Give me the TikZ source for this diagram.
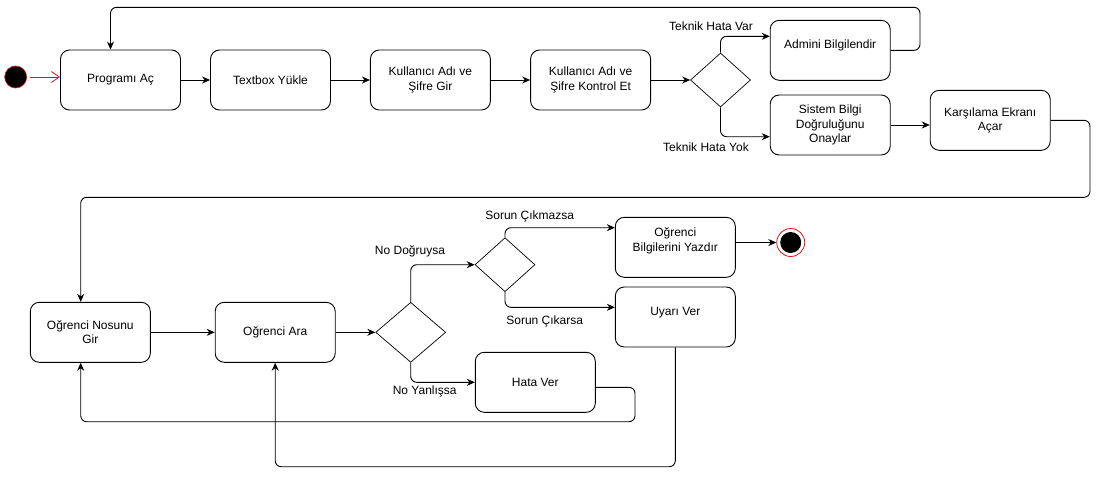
\documentclass[tikz,border=0pt]{standalone}
\usepackage{fontspec}
\setmainfont{Liberation Sans}
\usetikzlibrary{shapes.geometric,arrows.meta}
\definecolor{startRed}{RGB}{225,20,20}

\begin{document}
\begin{tikzpicture}[x=1pt,y=-1pt,
    font=\fontsize{12}{14.5}\selectfont,
    actbox/.style={draw,rounded corners=9pt,line width=0.9pt,minimum width=120pt,minimum height=60pt,align=center,inner sep=2pt},
    lifted/.style={text depth=#1},
    choice/.style={draw,diamond,line width=0.7pt,minimum width=60pt,minimum height=54pt,inner sep=0pt},
    flow/.style={line width=0.9pt,-{Stealth[length=8pt,width=7pt]},rounded corners=6pt},
    lbl/.style={inner sep=0pt},
    endring/.style={circle,draw=startRed,line width=0.8pt,fill=white,minimum size=28pt,inner sep=0pt,
      path picture={\fill[black] (path picture bounding box.center) circle (10.5pt);}}]
  \useasboundingbox (0,0) rectangle (1100,479);

  % Start
  \node[circle,fill=black,draw=startRed,line width=0.6pt,minimum size=22pt,inner sep=0pt] (start) at (15.7,77) {};

  % Login row
  \node[actbox] (prog) at (120.5,80) {Programı Aç};
  \node[actbox] (textbox) at (270.5,80) {Textbox Yükle};
  \node[actbox] (gir) at (430.4,80) {Kullanıcı Adı ve\\Şifre Gir};
  \node[actbox] (kontrol) at (590.6,80) {Kullanıcı Adı ve\\Şifre Kontrol Et};
  \node[choice] (hatakarar) at (720.5,80) {};
  \node[actbox,lifted=11.5pt] (admin) at (830.2,50.3) {Admini Bilgilendir};
  \node[actbox] (sistem) at (830.2,125) {Sistem Bilgi\\Doğruluğunu\\Onaylar};
  \node[actbox] (karsila) at (990.2,120.3) {Karşılama Ekranı\\Açar};

  % Student row
  \node[actbox] (nosu) at (90.3,332.3) {Oğrenci Nosunu\\Gir};
  \node[actbox] (ara) at (275.2,332.3) {Oğrenci Ara};
  \node[choice,minimum width=70pt,minimum height=60pt] (nokarar) at (410.7,332.3) {};
  \node[choice] (sorunkarar) at (505,264.7) {};
  \node[actbox,lifted=15pt] (yazdir) at (675.3,247.3) {Oğrenci\\Bilgilerini Yazdır};
  \node[actbox,lifted=11.5pt] (uyari) at (675.3,317) {Uyarı Ver};
  \node[actbox] (hata) at (535.3,382.3) {Hata Ver};
  \node[endring] (end) at (790.7,242.5) {};

  % Labels
  \node[lbl] (lblvar) at (711,26) {Teknik Hata Var};
  \node[lbl] (lblyok) at (706,147) {Teknik Hata Yok};
  \node[lbl] (lbldogru) at (410,251.7) {No Doğruysa};
  \node[lbl] (lblyanlis) at (424.7,391.3) {No Yanlışsa};
  \node[lbl] (lblcikmaz) at (529.7,216.7) {Sorun Çıkmazsa};
  \node[lbl] (lblcikar) at (544.7,321.7) {Sorun Çıkarsa};

  % Loop corners
  \coordinate (loopadmin) at (920,7.3);
  \coordinate (loopkarsila) at (1090,197.3);
  \coordinate (loophata) at (635,421.7);
  \coordinate (loopuyari) at (275.2,466.7);

  % Connectors
  \draw[startRed,line width=0.8pt,shorten <=3pt,-{Straight Barb[length=8pt,width=11pt]}] (start.east) -- (start.east -| prog.west);
  \draw[flow] (prog) -- (textbox);
  \draw[flow] (textbox) -- (gir);
  \draw[flow] (gir) -- (kontrol);
  \draw[flow] (kontrol) -- (hatakarar);
  \draw[flow] (hatakarar.north) |- ([yshift=14pt]admin.west);
  \draw[flow] (hatakarar.south) |- ([yshift=-11.7pt]sistem.west);
  \draw[flow] (sistem.east) -- (sistem.east -| karsila.west);
  \draw[flow] (admin.east) -| (loopadmin) -| ([xshift=-10pt]prog.north);
  \draw[flow] (karsila.east) -| (loopkarsila) -| ([xshift=-9.6pt]nosu.north);
  \draw[flow] (nosu) -- (ara);
  \draw[flow] (ara) -- (nokarar);
  \draw[flow] (nokarar.north) |- (sorunkarar.west);
  \draw[flow] (nokarar.south) |- (hata.west);
  \draw[flow] (sorunkarar.north) |- ([yshift=19.6pt]yazdir.west);
  \draw[flow] (sorunkarar.south) |- ([yshift=9.7pt]uyari.west);
  \draw[flow] (end -| yazdir.east) -- (end.west);
  \draw[flow] ([yshift=-5pt]hata.east) -| (loophata) -| ([xshift=-9.6pt]nosu.south);
  \draw[flow] (uyari.south) |- (loopuyari) -- (ara.south);
\end{tikzpicture}
\end{document}
